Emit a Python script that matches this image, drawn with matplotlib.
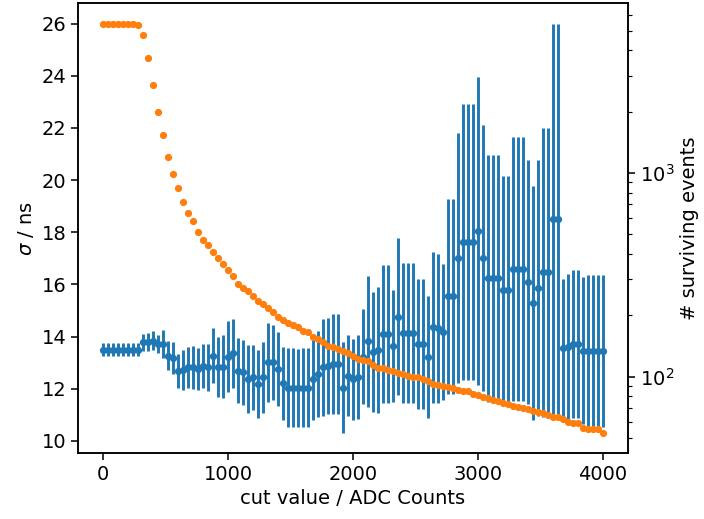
import numpy as np
import matplotlib
matplotlib.use("Agg")
import matplotlib.pyplot as plt

# the reference looks like a default plot scaled up by ~1.4
s = 1.4
plt.rcParams['font.size'] = 10 * s
plt.rcParams['axes.linewidth'] = 0.8 * s
plt.rcParams['xtick.major.size'] = 3.5 * s
plt.rcParams['ytick.major.size'] = 3.5 * s
plt.rcParams['xtick.major.width'] = 0.8 * s
plt.rcParams['ytick.major.width'] = 0.8 * s
plt.rcParams['ytick.minor.size'] = 2 * s
plt.rcParams['ytick.minor.width'] = 0.6 * s
plt.rcParams['lines.markersize'] = 6 * s
plt.rcParams['lines.linewidth'] = 1.5 * s

# cut values (ADC counts), 0..4000 in steps of 40
cut = np.arange(0, 4001, 40)

# time resolution sigma (ns) and its uncertainty
sigma = [13.49, 13.49, 13.49, 13.49, 13.49, 13.49, 13.49, 13.49, 13.78, 13.78,
         13.85, 13.72, 13.72, 13.27, 13.18, 12.69, 12.72, 12.82, 12.82, 12.76,
         12.88, 12.82, 13.27, 12.85, 12.85, 13.23, 13.36, 12.69, 12.63, 12.37,
         12.44, 12.18, 12.44, 13.01, 13.01, 12.76, 12.21, 12.05, 12.05, 12.03,
         12.05, 12.05, 12.37, 12.56, 12.82, 12.88, 12.95, 12.95, 12.05, 12.50,
         12.37, 12.46, 13.23, 13.82, 13.40, 13.49, 14.10, 14.10, 13.65, 14.77,
         14.14, 14.14, 14.14, 13.72, 13.72, 13.23, 14.36, 14.32, 14.19, 15.54,
         15.54, 17.01, 17.63, 17.63, 17.63, 18.04, 17.01, 16.24, 16.24, 16.24,
         15.77, 15.77, 16.60, 16.60, 16.60, 16.09, 15.29, 15.87, 16.47, 16.47,
         18.50, 18.50, 13.56, 13.59, 13.72, 13.72, 13.46, 13.46, 13.46, 13.46,
         13.46]
sigma_err = [0.25, 0.25, 0.25, 0.25, 0.25, 0.25, 0.25, 0.25, 0.32, 0.35,
             0.38, 0.35, 0.55, 0.55, 0.60, 0.64, 0.78, 0.80, 0.82, 0.82,
             0.85, 0.90, 1.06, 1.15, 1.20, 1.35, 1.32, 1.25, 1.25, 1.30,
             1.25, 1.30, 1.35, 1.50, 1.45, 1.40, 1.40, 1.50, 1.50, 1.50,
             1.50, 1.50, 1.55, 1.65, 1.85, 1.85, 1.90, 1.90, 1.73, 1.55,
             1.55, 1.60, 1.83, 2.50, 2.30, 2.40, 2.65, 2.65, 2.14, 3.00,
             2.70, 2.70, 2.70, 2.50, 2.50, 2.34, 2.90, 2.85, 2.60, 3.72,
             3.72, 4.80, 5.28, 5.28, 5.28, 5.90, 5.10, 4.74, 4.74, 4.74,
             4.40, 4.40, 5.06, 5.06, 5.06, 4.68, 4.50, 4.90, 5.54, 5.54,
             7.50, 7.50, 2.65, 2.80, 2.85, 2.85, 2.82, 2.92, 2.92, 2.92,
             2.92]

# number of events left after the cut
n_events = [5420, 5420, 5420, 5420, 5420, 5420, 5420, 5320, 4750, 3680,
            2690, 2000, 1530, 1200, 990, 844, 724, 637, 582, 513,
            468, 444, 411, 381, 356, 334, 310, 286, 273, 262,
            248, 236, 228, 216, 208, 197, 190, 184, 179, 176,
            167, 165, 156, 152, 148, 142, 140, 136, 133, 131,
            126, 122, 121, 119, 114, 110, 110, 108, 106, 104,
            103, 101, 100, 99, 97, 95, 92, 91, 90, 89,
            88, 86, 85, 85, 82, 81, 79, 78, 77, 76,
            74, 73, 72, 71, 70, 69, 68, 67, 66, 65,
            63, 63, 62, 60, 59, 59, 56, 55, 55, 55,
            53]

fig, ax = plt.subplots(figsize=(7.04, 5.19), dpi=100)
fig.subplots_adjust(left=0.111, right=0.892, top=0.994, bottom=0.127)

ax.errorbar(cut, sigma, yerr=sigma_err, fmt='.', color='C0')
ax.set_xticks([0, 1000, 2000, 3000, 4000])
ax.set_xlabel('cut value / ADC Counts')
ax.set_ylabel(r'$\sigma$ / ns')

ax2 = ax.twinx()
ax2.plot(cut, n_events, '.', color='C1')
ax2.set_yscale('log')
ax2.set_ylabel('# surviving events')

fig.savefig('out.png', dpi=100)
